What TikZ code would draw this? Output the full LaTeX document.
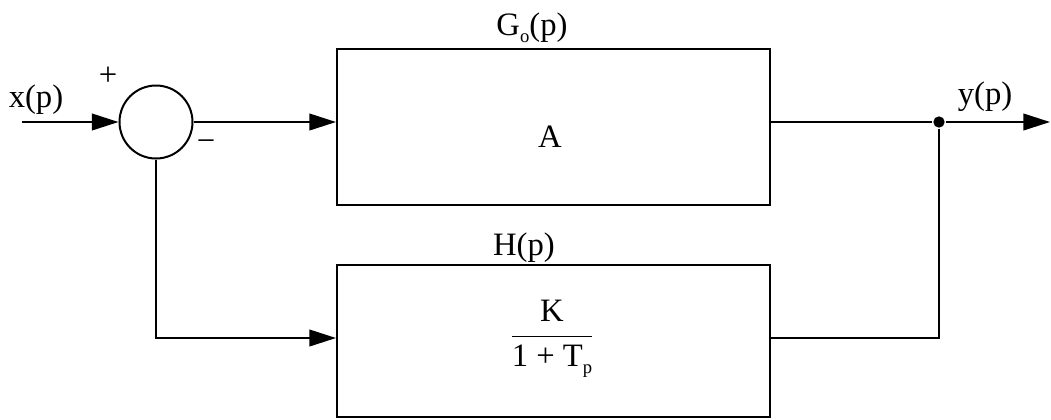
\documentclass[tikz,border=0pt]{standalone}
\usepackage{fontspec}
\setmainfont{Liberation Serif}
\usetikzlibrary{arrows.meta}
\newcommand{\subsm}[1]{\raisebox{-0.45ex}{\fontsize{14}{14}\selectfont #1}}
\begin{document}
\begin{tikzpicture}[x=0.75pt,y=-0.75pt,
  line width=1.5pt,
  every node/.style={font=\fontsize{24.5}{28}\selectfont},
  blockbox/.style={draw,rectangle,minimum width=433*0.75pt,inner sep=0pt},
  sumnode/.style={draw,circle,minimum size=73*0.75pt,inner sep=0pt},
  sig/.style={-{Triangle[length=20pt,width=12.5pt]}},
  lbl/.style={inner sep=0pt,anchor=center},
  dotnode/.style={circle,fill,inner sep=0pt,minimum size=8.5pt}]
\useasboundingbox (0,0) rectangle (1051,419);
\fill[white] (0,0) rectangle (1051,419);
% nodes
\coordinate (in) at (22,122);
\node[sumnode] (sum) at (156,122) {};
\node[blockbox,minimum height=156*0.75pt] (G) at (553.5,127) {};
\node[blockbox,minimum height=152*0.75pt] (H) at (553.5,341) {};
\node[dotnode] (dot) at (939,122) {};
\coordinate (out) at (1050,122);
\coordinate (fbL) at (156,338);
\coordinate (fbR) at (939,338);
% texts
\node[lbl] (xl) at (36,100) {x(p)};
\node[lbl] (plus) at (108,76) {+};
\node[lbl] (minus) at (206,146) {−};
\node[lbl] (yl) at (985,97) {y(p)};
\node[lbl] (gl) at (532,28) {G\subsm{o}(p)};
\node[lbl] (hl) at (524,248) {H(p)};
\node[lbl] (A) at (550,137) {A};
\node[lbl] (frac) at (552,339) {$\displaystyle\frac{\mbox{K}}{\mbox{1 + T\subsm{p}}}$};
% connectors
\draw[sig] (in) -- (sum.west);
\draw[sig] (sum.east) -- (G.west |- sum.east);
\draw (G.east |- dot) -- (dot);
\draw[sig] (dot) -- (out);
\draw[sig] (sum.south) -- (fbL) -- (H.west |- fbL);
\draw (dot) -- (fbR) -- (H.east |- fbR);
\end{tikzpicture}
\end{document}
